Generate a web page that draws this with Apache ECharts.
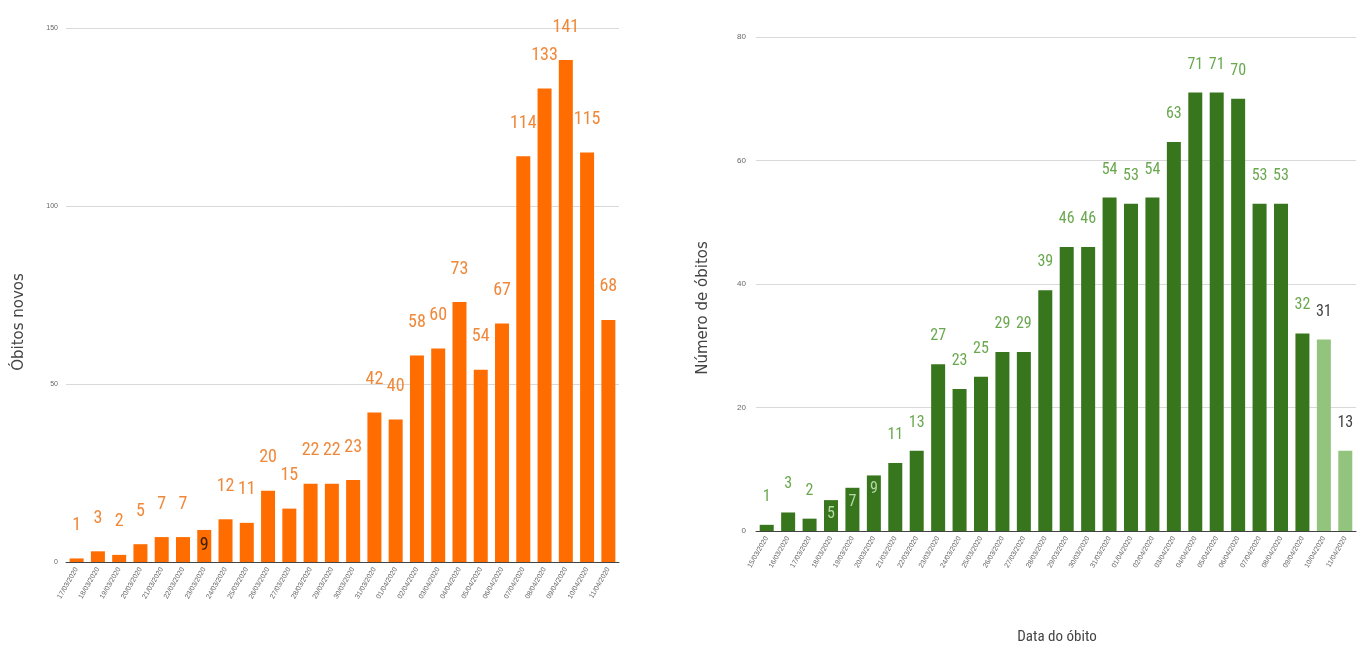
<!DOCTYPE html>
<html>
<head>
<meta charset="utf-8">
<script src="https://cdn.jsdelivr.net/npm/echarts@6/dist/echarts.min.js"></script>
<style>
html,body{margin:0;padding:0;background:#fff;}
#c{width:1357px;height:647px;}
</style>
</head>
<body>
<div id="c"></div>
<script>
const leftDates = ['17/03/2020','18/03/2020','19/03/2020','20/03/2020','21/03/2020','22/03/2020','23/03/2020','24/03/2020','25/03/2020','26/03/2020','27/03/2020','28/03/2020','29/03/2020','30/03/2020','31/03/2020','01/04/2020','02/04/2020','03/04/2020','04/04/2020','05/04/2020','06/04/2020','07/04/2020','08/04/2020','09/04/2020','10/04/2020','11/04/2020'];
const leftValues = [1,3,2,5,7,7,9,12,11,20,15,22,22,23,42,40,58,60,73,54,67,114,133,141,115,68];
const rightDates = ['15/03/2020','16/03/2020','17/03/2020','18/03/2020','19/03/2020','20/03/2020','21/03/2020','22/03/2020','23/03/2020','24/03/2020','25/03/2020','26/03/2020','27/03/2020','28/03/2020','29/03/2020','30/03/2020','31/03/2020','01/04/2020','02/04/2020','03/04/2020','04/04/2020','05/04/2020','06/04/2020','07/04/2020','08/04/2020','09/04/2020','10/04/2020','11/04/2020'];
const rightValues = [1,3,2,5,7,9,11,13,27,23,25,29,29,39,46,46,54,53,54,63,71,71,70,53,53,32,31,13];
const leftAxisName = 'Óbitos novos';
const rightAxisName = 'Número de óbitos';
const rightXName = 'Data do óbito';

const narrow = "'Liberation Sans Narrow','Roboto Condensed','DejaVu Sans Condensed',Roboto,sans-serif";
const orange = '#ff6d01';
const dkGreen = '#38761d';
const ltGreen = '#93c47d';

const leftData = leftValues.map((v, i) => {
  if (i === 6) return {value: v, label: {position: 'inside', color: '#3a2000', distance: 0}};
  return v;
});
const rightData = rightValues.map((v, i) => {
  if (i >= 3 && i <= 5) return {value: v, label: {position: 'insideTop', color: '#b6d7a8', distance: 6}};
  if (i >= 26) return {value: v, itemStyle: {color: ltGreen}, label: {color: '#444'}};
  return v;
});

const chart = echarts.init(document.getElementById('c'));
chart.setOption({
  animation: false,
  backgroundColor: '#fff',
  grid: [
    {left: 66, top: 28, width: 553, bottom: 85, containLabel: false},
    {left: 756, top: 37, right: 1, bottom: 116, containLabel: false}
  ],
  xAxis: [
    {type: 'category', gridIndex: 0, data: leftDates,
     axisLine: {lineStyle: {color: '#444'}}, axisTick: {show: false},
     axisLabel: {interval: 0, rotate: 60, fontSize: 7, color: '#666', margin: 6}},
    {type: 'category', gridIndex: 1, data: rightDates,
     axisLine: {lineStyle: {color: '#444'}}, axisTick: {show: false},
     axisLabel: {interval: 0, rotate: 60, fontSize: 7, color: '#666', margin: 6}}
  ],
  yAxis: [
    {type: 'value', gridIndex: 0, min: 0, max: 150, interval: 50,
     axisLine: {show: false}, axisTick: {show: false},
     splitLine: {lineStyle: {color: '#d9d9d9'}},
     axisLabel: {fontSize: 7, color: '#666', margin: 8}},
    {type: 'value', gridIndex: 1, min: 0, max: 80, interval: 20,
     axisLine: {show: false}, axisTick: {show: false},
     splitLine: {lineStyle: {color: '#d9d9d9'}},
     axisLabel: {fontSize: 8, color: '#666', margin: 10}}
  ],
  series: [
    {type: 'bar', xAxisIndex: 0, yAxisIndex: 0, data: leftData, barWidth: 14,
     itemStyle: {color: orange},
     label: {show: true, position: 'top', distance: 24, color: '#f0883a', fontSize: 18, fontFamily: narrow}},
    {type: 'bar', xAxisIndex: 1, yAxisIndex: 1, data: rightData, barWidth: 14,
     itemStyle: {color: dkGreen},
     label: {show: true, position: 'top', distance: 20, color: '#6aa84f', fontSize: 16, fontFamily: narrow}}
  ],
  graphic: [
    {type: 'text', x: 19, y: 322, rotation: Math.PI/2, style: {text: leftAxisName, fontSize: 15, fill: '#444', fontFamily: "'DejaVu Sans',sans-serif", align: 'center', verticalAlign: 'middle'}},
    {type: 'text', x: 703, y: 308, rotation: Math.PI/2, style: {text: rightAxisName, fontSize: 15, fill: '#444', fontFamily: "'DejaVu Sans',sans-serif", align: 'center', verticalAlign: 'middle'}},
    {type: 'text', x: 1057, y: 637, style: {text: rightXName, fontSize: 15, fill: '#444', fontFamily: narrow, align: 'center', verticalAlign: 'middle'}}
  ]
});
</script>
</body>
</html>
